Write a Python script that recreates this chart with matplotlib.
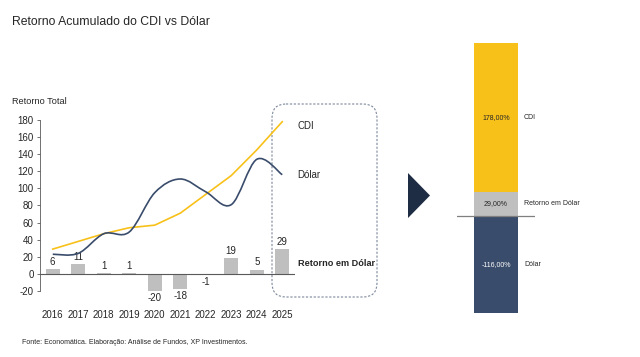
import matplotlib.pyplot as plt
from matplotlib.path import Path
from matplotlib.patches import PathPatch, Polygon, FancyBboxPatch

plt.rcParams['font.family'] = ['Liberation Sans', 'DejaVu Sans']
plt.rcParams['axes.unicode_minus'] = False

anos = ['2016', '2017', '2018', '2019', '2020', '2021', '2022', '2023', '2024', '2025']
cdi = [29, 38, 47, 54, 57, 71, 93, 115, 145, 178]
dolar = [23, 24, 47, 49, 95, 111, 96, 81, 134, 116]
retorno_dolar = [6, 11, 1, 1, -20, -18, -1, 19, 5, 29]

# painel da direita (ultimo ano)
total_cdi = 178
total_ret = 29
total_dolar = -116

c_amarelo = '#f8c11a'
c_azul = '#3a4c6b'
c_cinza = '#bfbfbf'
c_texto = '#262626'
fs = 7

fig = plt.figure(figsize=(6.4, 3.57), dpi=100)

# camada de fundo em pixels para titulo, seta e caixa
ov = fig.add_axes([0, 0, 1, 1])
ov.set_xlim(0, 640)
ov.set_ylim(357, 0)
ov.axis('off')
ov.text(12, 22, 'Retorno Acumulado do CDI vs Dólar', fontsize=8.8, color=c_texto, va='center')
ov.text(12, 102, 'Retorno Total', fontsize=6.6, color=c_texto, va='center')
ov.text(22, 343, 'Fonte: Economática. Elaboração: Análise de Fundos, XP Investimentos.',
        fontsize=5.0, color=c_texto, va='center')
ov.add_patch(Polygon([[408, 173], [430, 195.5], [408, 218]], closed=True,
                     facecolor='#1f2d44', edgecolor='none'))
ov.add_patch(FancyBboxPatch((278, 110), 93, 181, boxstyle='round,pad=6,rounding_size=14',
                            fill=False, edgecolor='#7d889c', lw=0.8, ls=(0, (2, 1.5))))

# grafico da esquerda
ax = fig.add_axes([40 / 640, 1 - 291 / 357, 255 / 640, 171 / 357])
ax.patch.set_visible(False)
x = list(range(len(anos)))
ax.bar(x, retorno_dolar, width=0.55, color=c_cinza, zorder=2)
for xi, v in zip(x, retorno_dolar):
    if v >= 0:
        ax.text(xi, v + 2.5, str(v), ha='center', va='bottom', fontsize=fs, color=c_texto)
    else:
        ax.text(xi, v - 2.5, str(v), ha='center', va='top', fontsize=fs, color=c_texto)

ax.plot(x, cdi, color=c_amarelo, lw=1.2, zorder=3)

# linha suavizada do dolar (bezier tipo Excel)
verts = [(x[0], dolar[0])]
codes = [Path.MOVETO]
n = len(x)
for i in range(n - 1):
    p0 = (x[max(i - 1, 0)], dolar[max(i - 1, 0)])
    p1 = (x[i], dolar[i])
    p2 = (x[i + 1], dolar[i + 1])
    p3 = (x[min(i + 2, n - 1)], dolar[min(i + 2, n - 1)])
    c1 = (p1[0] + (p2[0] - p0[0]) / 6, p1[1] + (p2[1] - p0[1]) / 6)
    c2 = (p2[0] - (p3[0] - p1[0]) / 6, p2[1] - (p3[1] - p1[1]) / 6)
    verts += [c1, c2, p2]
    codes += [Path.CURVE4] * 3
ax.add_patch(PathPatch(Path(verts, codes), fill=False, edgecolor=c_azul, lw=1.2, zorder=3))

ax.axhline(0, color='#595959', lw=0.8, zorder=2)
ax.set_xlim(-0.5, 9.5)
ax.set_ylim(-20, 180)
ax.set_yticks(range(-20, 181, 20))
ax.set_xticks(x)
ax.set_xticklabels(anos)
ax.tick_params(axis='x', length=0, pad=14, labelsize=fs, labelcolor=c_texto)
ax.tick_params(axis='y', length=2.5, width=0.6, color='#595959', labelsize=fs,
               labelcolor=c_texto, pad=2)
for s in ['top', 'right', 'bottom']:
    ax.spines[s].set_visible(False)
ax.spines['left'].set_color('#595959')
ax.spines['left'].set_linewidth(0.6)

ax.text(9.6, 173, 'CDI', fontsize=fs, color=c_texto, va='center', clip_on=False)
ax.text(9.6, 116, 'Dólar', fontsize=fs, color=c_texto, va='center', clip_on=False)
ax.text(9.6, 12, 'Retorno em Dólar', fontsize=6.6, fontweight='bold', color=c_texto,
        va='center', clip_on=False)

# grafico da direita (barra empilhada)
ax2 = fig.add_axes([457 / 640, 1 - 313 / 357, 78 / 640, 270 / 357])
ax2.patch.set_visible(False)
ax2.bar(0.5, total_ret, width=0.56, color=c_cinza)
ax2.bar(0.5, total_cdi, bottom=total_ret, width=0.56, color=c_amarelo)
ax2.bar(0.5, total_dolar, width=0.56, color=c_azul)
ax2.axhline(0, color='#7f7f7f', lw=0.9)
ax2.set_xlim(0, 1)
ax2.set_ylim(total_dolar, total_ret + total_cdi)
ax2.axis('off')

def fmt(v):
    return ('%.2f' % v).replace('.', ',') + '%'

ax2.text(0.5, total_ret + total_cdi / 2, fmt(total_cdi), ha='center', va='center',
         fontsize=5, color=c_texto)
ax2.text(0.5, total_ret / 2, fmt(total_ret), ha='center', va='center', fontsize=5, color=c_texto)
ax2.text(0.5, total_dolar / 2, fmt(total_dolar), ha='center', va='center', fontsize=5, color='white')
ax2.text(0.86, total_ret + total_cdi / 2, 'CDI', va='center', fontsize=5, color=c_texto, clip_on=False)
ax2.text(0.86, total_ret / 2, 'Retorno em Dólar', va='center', fontsize=5, color=c_texto, clip_on=False)
ax2.text(0.86, total_dolar / 2, 'Dólar', va='center', fontsize=5, color=c_texto, clip_on=False)

fig.savefig('out.png', dpi=100)
